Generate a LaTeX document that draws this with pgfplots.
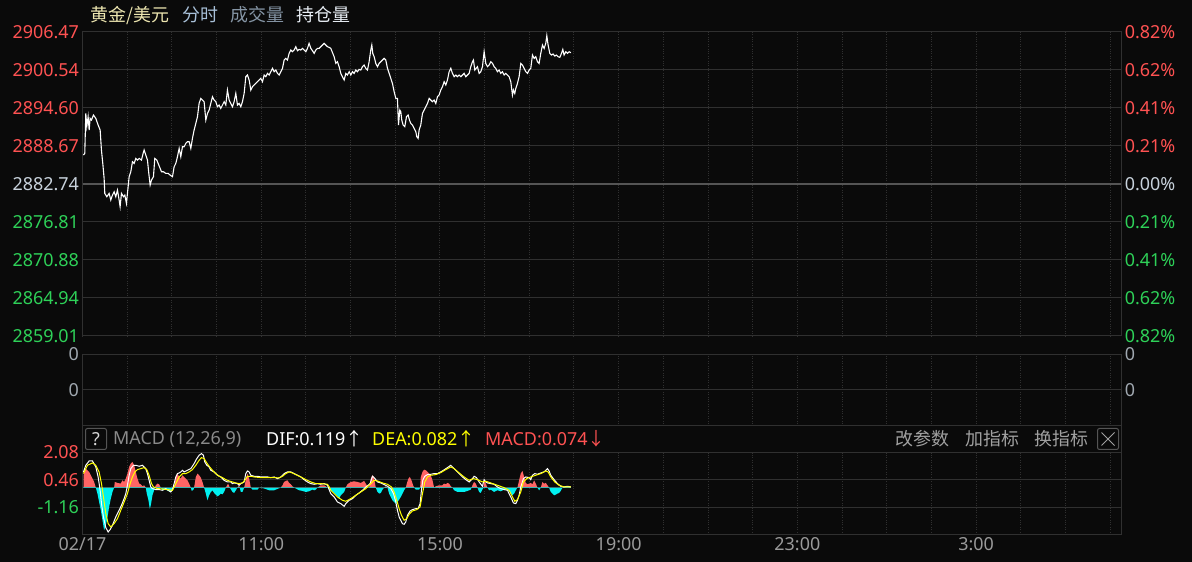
\documentclass[border=0pt]{standalone}
\usepackage{pgfplots}
\pgfplotsset{compat=1.18}
\usepackage{fontspec}
\setmainfont{Noto Sans}
\newfontfamily\cjk{Noto Sans CJK SC}
\definecolor{bg}{HTML}{0A0A0A}
\definecolor{gridc}{HTML}{303030}
\definecolor{boxc}{HTML}{555555}
\definecolor{zeroc}{HTML}{555555}
\definecolor{upred}{HTML}{FF5252}
\definecolor{dngreen}{HTML}{2ED158}
\definecolor{midc}{HTML}{C8D2DC}
\definecolor{zerolab}{HTML}{A0A8B0}
\definecolor{histred}{HTML}{FF6464}
\definecolor{histcyan}{HTML}{00F0F0}
\definecolor{deay}{HTML}{FFFF00}
\definecolor{timec}{HTML}{9A9A9A}
\definecolor{hdrgray}{HTML}{8A8A8A}
\definecolor{btngray}{HTML}{A0A0A0}
\definecolor{titley}{HTML}{EDE6B0}
\definecolor{titleb}{HTML}{A8C0D8}
\definecolor{titleg}{HTML}{8595A5}
\definecolor{titlew}{HTML}{E8EEF5}
\newcommand\lab{\fontsize{18}{18}\selectfont}
\pgfplotsset{panel/.style={scale only axis, anchor=south west, width=1038.8bp,
  xmin=0, xmax=23.25, axis line style={draw=gridc, line width=1bp},
  xtick={0,...,23}, xticklabels={}, xmajorgrids, ymajorgrids,
  x grid style={draw=gridc, dotted, line width=1bp},
  y grid style={draw=gridc, line width=1bp},
  major tick length=0, tick label style={font=\lab}},
  rlabels/.style={scale only axis, anchor=south west, width=1038.8bp,
  xmin=0, xmax=23.25, axis line style={draw=none}, xtick=\empty,
  yticklabel pos=right, major tick length=0, tick label style={font=\lab}}}
\begin{document}
\begin{tikzpicture}
\useasboundingbox (0,0) rectangle (1192bp,562bp);
\fill[bg] (0,0) rectangle (1192bp,562bp);
% title
\node[anchor=west, inner sep=0pt, font=\lab\cjk, text=titley] at (90bp,547bp) {黄金/美元};
\node[anchor=west, inner sep=0pt, font=\lab\cjk, text=titleb] at (182bp,547bp) {分时};
\node[anchor=west, inner sep=0pt, font=\lab\cjk, text=titleg] at (230bp,547bp) {成交量};
\node[anchor=west, inner sep=0pt, font=\lab\cjk, text=titlew] at (296bp,547bp) {持仓量};
% price panel
\begin{axis}[panel, at={(82.5bp,226bp)}, height=304.3bp,
  ymin=2859.01, ymax=2906.47,
  ytick={2859.01,2864.94,2870.88,2876.81,2882.74,2888.67,2894.60,2900.54,2906.47},
  yticklabels={{\color{dngreen}2859.01},{\color{dngreen}2864.94},{\color{dngreen}2870.88},{\color{dngreen}2876.81},{\color{midc}2882.74},{\color{upred}2888.67},{\color{upred}2894.60},{\color{upred}2900.54},{\color{upred}2906.47}}]
\addplot[zeroc, line width=2bp] coordinates {(0,2882.74) (23.25,2882.74)};
\addplot[white, line width=1.1bp] coordinates {
(0.022,2887.23) (0.051,2887.49) (0.074,2893.73) (0.096,2891.65) (0.126,2893.21) (0.149,2891.13) (0.171,2892.95) (0.201,2892.69) (0.245,2893.47) (0.298,2892.95) (0.350,2891.91) (0.395,2891.13) (0.424,2888.01) (0.454,2885.93) (0.484,2883.59) (0.499,2881.25) (0.544,2880.73) (0.596,2881.25) (0.633,2880.21) (0.671,2880.99) (0.708,2881.51) (0.745,2880.73) (0.783,2881.77) (0.820,2880.21) (0.842,2879.17) (0.872,2881.25) (0.917,2880.73) (0.947,2880.99) (0.984,2879.69) (1.006,2881.25) (1.044,2883.85) (1.081,2884.63) (1.118,2886.19) (1.156,2885.93) (1.193,2886.71) (1.230,2886.45) (1.268,2886.71) (1.320,2886.45) (1.357,2887.49) (1.379,2888.01) (1.417,2887.23) (1.454,2886.45) (1.484,2884.37) (1.514,2882.55) (1.544,2883.33) (1.588,2883.85) (1.618,2886.71) (1.663,2886.45) (1.693,2885.93) (1.738,2885.15) (1.767,2884.63) (1.812,2884.63) (1.864,2884.37) (1.917,2884.37) (1.961,2884.11) (2.014,2883.85) (2.051,2885.41) (2.088,2885.93) (2.125,2886.97) (2.163,2888.27) (2.200,2886.97) (2.237,2888.53) (2.275,2888.53) (2.312,2889.05) (2.349,2889.31) (2.387,2889.31) (2.424,2888.27) (2.461,2889.83) (2.498,2891.13) (2.536,2892.17) (2.573,2893.21) (2.610,2895.29) (2.648,2896.07) (2.685,2895.81) (2.722,2895.55) (2.760,2892.69) (2.797,2893.73) (2.834,2894.25) (2.872,2895.29) (2.909,2896.33) (2.946,2895.81) (2.983,2895.55) (3.021,2894.77) (3.058,2895.03) (3.095,2894.51) (3.133,2895.03) (3.170,2895.55) (3.207,2895.03) (3.244,2897.37) (3.282,2895.81) (3.319,2895.29) (3.356,2894.77) (3.394,2895.55) (3.431,2896.85) (3.468,2895.03) (3.506,2895.29) (3.543,2894.77) (3.580,2895.55) (3.618,2896.85) (3.655,2899.45) (3.692,2899.71) (3.730,2898.93) (3.767,2897.37) (3.804,2897.89) (3.841,2898.15) (3.879,2898.41) (3.916,2898.67) (3.953,2898.93) (3.991,2899.19) (4.028,2898.67) (4.065,2899.71) (4.102,2899.45) (4.140,2899.97) (4.177,2899.71) (4.214,2900.23) (4.252,2900.75) (4.289,2900.23) (4.326,2900.49) (4.364,2899.97) (4.401,2899.71) (4.438,2900.23) (4.476,2900.75) (4.513,2902.05) (4.550,2902.31) (4.587,2902.05) (4.625,2903.09) (4.662,2903.61) (4.699,2903.35) (4.737,2903.61) (4.774,2904.13) (4.811,2903.51) (4.849,2903.71) (4.886,2903.61) (4.923,2903.87) (4.960,2903.61) (4.998,2903.35) (5.035,2903.87) (5.072,2904.65) (5.110,2903.87) (5.147,2903.51) (5.184,2903.09) (5.221,2903.61) (5.259,2903.87) (5.296,2903.87) (5.333,2904.13) (5.371,2904.39) (5.408,2904.65) (5.445,2904.39) (5.483,2904.13) (5.520,2904.03) (5.557,2903.87) (5.632,2902.57) (5.669,2901.53) (5.706,2901.79) (5.744,2901.01) (5.781,2899.97) (5.818,2899.45) (5.856,2898.93) (5.893,2899.97) (5.930,2899.71) (5.968,2900.23) (6.005,2899.71) (6.042,2900.23) (6.079,2899.97) (6.117,2900.49) (6.154,2900.23) (6.191,2900.59) (6.229,2900.49) (6.266,2901.01) (6.303,2901.27) (6.341,2900.75) (6.378,2900.49) (6.415,2901.79) (6.452,2903.61) (6.475,2904.39) (6.497,2903.09) (6.527,2902.57) (6.564,2901.53) (6.602,2901.01) (6.639,2901.53) (6.676,2901.79) (6.714,2902.05) (6.751,2902.31) (6.788,2902.05) (6.826,2900.75) (6.863,2899.97) (6.900,2899.19) (6.937,2898.41) (6.975,2897.11) (7.012,2896.07) (7.049,2896.07) (7.072,2891.91) (7.102,2894.25) (7.124,2893.99) (7.146,2892.69) (7.176,2891.91) (7.213,2891.65) (7.251,2893.21) (7.288,2893.47) (7.318,2892.69) (7.348,2892.17) (7.385,2891.91) (7.422,2891.39) (7.460,2890.87) (7.482,2890.09) (7.512,2889.83) (7.534,2891.13) (7.571,2891.91) (7.609,2893.73) (7.646,2894.25) (7.683,2894.77) (7.721,2895.29) (7.758,2896.07) (7.795,2895.81) (7.833,2895.55) (7.870,2895.81) (7.907,2895.29) (7.945,2896.33) (7.982,2896.59) (8.019,2897.37) (8.056,2897.89) (8.094,2898.67) (8.131,2898.15) (8.168,2898.93) (8.206,2900.23) (8.243,2900.75) (8.280,2899.97) (8.318,2899.45) (8.355,2899.71) (8.392,2899.45) (8.430,2899.71) (8.467,2899.45) (8.504,2899.71) (8.541,2899.97) (8.579,2899.45) (8.616,2899.71) (8.653,2899.97) (8.691,2901.01) (8.728,2901.79) (8.750,2902.05) (8.780,2900.49) (8.810,2900.75) (8.840,2901.01) (8.877,2899.97) (8.914,2900.23) (8.952,2901.01) (8.989,2903.35) (9.026,2901.53) (9.064,2901.01) (9.101,2901.27) (9.138,2901.79) (9.176,2901.53) (9.213,2901.01) (9.250,2900.75) (9.287,2900.23) (9.325,2900.49) (9.362,2899.97) (9.399,2900.23) (9.437,2899.71) (9.474,2899.97) (9.511,2899.71) (9.549,2899.45) (9.586,2898.67) (9.623,2896.59) (9.645,2897.37) (9.675,2896.85) (9.698,2897.63) (9.735,2898.41) (9.772,2899.45) (9.810,2901.53) (9.847,2901.27) (9.884,2900.75) (9.922,2900.23) (9.959,2899.97) (9.996,2900.49) (10.033,2900.75) (10.071,2902.83) (10.108,2902.31) (10.145,2902.57) (10.183,2901.79) (10.220,2901.53) (10.257,2903.09) (10.295,2904.39) (10.332,2903.87) (10.369,2904.65) (10.392,2905.85) (10.421,2904.39) (10.459,2903.09) (10.496,2902.83) (10.533,2902.99) (10.571,2902.67) (10.608,2902.83) (10.645,2902.57) (10.683,2902.47) (10.720,2903.09) (10.750,2903.71) (10.779,2902.83) (10.817,2903.35) (10.854,2903.09) (10.891,2903.35) (10.929,2903.19)};
\end{axis}
\begin{axis}[rlabels, at={(82.5bp,226bp)}, height=304.3bp,
  ymin=2859.01, ymax=2906.47,
  ytick={2859.01,2864.94,2870.88,2876.81,2882.74,2888.67,2894.60,2900.54,2906.47},
  yticklabels={{\color{dngreen}0.82\%},{\color{dngreen}0.62\%},{\color{dngreen}0.41\%},{\color{dngreen}0.21\%},{\color{midc}0.00\%},{\color{upred}0.21\%},{\color{upred}0.41\%},{\color{upred}0.62\%},{\color{upred}0.82\%}}]
\end{axis}
% middle panel
\begin{axis}[panel, at={(82.5bp,136.3bp)}, height=71.4bp, ymin=-1, ymax=1,
  ytick={0,1}, yticklabels={0,0}, yticklabel style={text=zerolab}]
\end{axis}
\begin{axis}[rlabels, at={(82.5bp,136.3bp)}, height=71.4bp, ymin=-1, ymax=1,
  ytick={0,1}, yticklabels={0,0}, yticklabel style={text=zerolab}]
\end{axis}
% header band
\draw[gridc, line width=1bp] (82.5bp,136.3bp) -- (82.5bp,109.7bp) (1121.3bp,136.3bp) -- (1121.3bp,109.7bp);
\draw[boxc, line width=1bp, rounded corners=2bp] (85.5bp,112.5bp) rectangle (106.5bp,133.5bp);
\node[font=\lab, text=white!85!black, inner sep=0pt] at (96bp,123bp) {?};
\node[anchor=west, inner sep=0pt, font=\lab, text=hdrgray] at (113bp,123bp) {MACD (12,26,9)};
\node[anchor=west, inner sep=0pt, font=\lab, text=white] at (266bp,123bp) {DIF:0.119{\cjk ↑}};
\node[anchor=west, inner sep=0pt, font=\lab, text=deay] at (372bp,123bp) {DEA:0.082{\cjk ↑}};
\node[anchor=west, inner sep=0pt, font=\lab, text=upred] at (485bp,123bp) {MACD:0.074{\cjk ↓}};
\node[anchor=west, inner sep=0pt, font=\lab\cjk, text=btngray] at (895bp,123bp) {改参数};
\node[anchor=west, inner sep=0pt, font=\lab\cjk, text=btngray] at (965bp,123bp) {加指标};
\node[anchor=west, inner sep=0pt, font=\lab\cjk, text=btngray] at (1034bp,123bp) {换指标};
\draw[boxc, line width=1bp, rounded corners=2bp] (1097.5bp,112.5bp) rectangle (1118.5bp,133.5bp);
\draw[btngray, line width=0.8bp] (1101.5bp,116.5bp) -- (1114.5bp,129.5bp) (1101.5bp,129.5bp) -- (1114.5bp,116.5bp);
% MACD panel
\begin{axis}[panel, at={(82.5bp,27.7bp)}, height=82bp, ymin=-2.75, ymax=2.08,
  ytick={-1.16,0.46,2.08},
  yticklabels={{\color{dngreen}-1.16},{\color{upred}0.46},{\color{upred}2.08}},
  xticklabels={02/17,,,,11:00,,,,15:00,,,,19:00,,,,23:00,,,,3:00,,,},
  xticklabel style={text=timec}]
\begin{scope}
\clip (axis cs:0,0) rectangle (axis cs:23.25,2.08);
\addplot[fill=histred, draw=none] coordinates {
(0.022,0) (0.030,1.02) (0.074,1.119) (0.149,0.923) (0.186,0.727) (0.223,0.530) (0.260,0.334) (0.298,0) (0.335,-0.354) (0.372,-0.845) (0.410,-1.336) (0.447,-1.925) (0.484,-2.514) (0.522,-2.219) (0.559,-1.728) (0.596,-1.139) (0.633,-0.648) (0.671,-0.255) (0.708,0) (0.723,0.334) (0.783,0.275) (0.857,0.236) (0.895,0.432) (0.932,0.334) (0.969,0.530) (1.006,0.825) (1.044,1.218) (1.081,1.414) (1.118,1.512) (1.156,1.316) (1.193,0.923) (1.230,0.530) (1.268,0.236) (1.305,0.196) (1.342,0.079) (1.379,0.137) (1.417,0) (1.439,-0.354) (1.476,-0.746) (1.506,-1.237) (1.529,-1.041) (1.566,-0.452) (1.603,-0.157) (1.618,0) (1.641,0.137) (1.678,0.236) (1.715,0.196) (1.752,0) (1.790,-0.157) (1.864,-0.118) (1.917,-0.196) (1.976,-0.255) (2.014,-0.157) (2.051,0) (2.088,0.628) (2.125,0.825) (2.163,0.628) (2.200,0.530) (2.237,0.727) (2.275,0.628) (2.312,0.530) (2.349,0.432) (2.387,0.236) (2.424,0) (2.446,-0.196) (2.484,-0.118) (2.498,0) (2.536,0.628) (2.573,0.825) (2.610,0.727) (2.648,0.589) (2.685,0.334) (2.722,0) (2.760,-0.354) (2.797,-0.746) (2.834,-0.452) (2.872,-0.255) (2.909,-0.157) (2.946,-0.314) (2.983,-0.412) (3.021,-0.511) (3.058,-0.452) (3.095,-0.354) (3.133,-0.393) (3.170,-0.255) (3.207,0) (3.259,0.236) (3.297,0) (3.356,-0.255) (3.394,-0.314) (3.431,-0.157) (3.468,0) (3.506,0.137) (3.520,0) (3.543,-0.255) (3.580,-0.255) (3.618,0) (3.670,0.628) (3.692,0.825) (3.730,0.530) (3.767,0) (3.804,-0.118) (3.916,-0.118) (3.953,0) (4.065,-0.05) (4.177,-0.157) (4.289,-0.157) (4.438,0) (4.476,0.137) (4.513,0.334) (4.550,0.393) (4.587,0.432) (4.625,0.275) (4.662,0.196) (4.699,0.079) (4.737,0) (4.849,-0.157) (4.923,-0.196) (4.998,-0.255) (5.072,-0.216) (5.147,-0.118) (5.184,-0.157) (5.221,-0.118) (5.259,0) (5.333,0.137) (5.408,0.137) (5.483,0) (5.520,-0.118) (5.557,-0.157) (5.632,-0.314) (5.706,-0.511) (5.744,-0.648) (5.781,-0.452) (5.856,-0.255) (5.893,0) (5.930,0.196) (6.005,0.334) (6.079,0.373) (6.154,0.334) (6.229,0.275) (6.266,0.334) (6.303,0.393) (6.341,0.236) (6.378,0.039) (6.415,0) (6.452,0.530) (6.490,0.727) (6.512,0.668) (6.542,0.334) (6.564,0) (6.602,-0.255) (6.639,-0.354) (6.676,-0.314) (6.714,-0.118) (6.751,0) (6.788,0.079) (6.826,0) (6.863,-0.354) (6.900,-0.550) (6.937,-0.746) (6.975,-0.845) (7.012,-0.943) (7.049,-0.845) (7.087,-0.707) (7.124,-0.550) (7.161,-0.354) (7.198,-0.157) (7.236,0) (7.258,0.236) (7.295,0.530) (7.325,0.628) (7.362,0.432) (7.400,0.137) (7.422,0) (7.460,-0.118) (7.534,-0.118) (7.556,0) (7.571,0.628) (7.609,0.923) (7.646,1.061) (7.683,1.021) (7.721,0.923) (7.758,0.825) (7.795,0.727) (7.833,0.432) (7.870,0) (7.907,0.079) (7.982,0.137) (8.056,0.137) (8.094,0.236) (8.131,0.196) (8.168,0.275) (8.206,0.236) (8.243,0.079) (8.280,0) (8.318,-0.157) (8.392,-0.255) (8.467,-0.255) (8.541,-0.255) (8.616,-0.196) (8.690,-0.118) (8.728,0.137) (8.765,0.334) (8.802,0.236) (8.839,0) (8.877,-0.255) (8.914,-0.314) (8.951,-0.118) (8.974,0) (8.989,0.432) (9.026,0.236) (9.063,0) (9.101,-0.157) (9.138,-0.118) (9.212,-0.255) (9.287,-0.157) (9.362,-0.216) (9.436,-0.118) (9.511,-0.157) (9.585,-0.314) (9.623,-0.452) (9.660,-0.354) (9.697,-0.157) (9.735,0) (9.772,0.432) (9.809,0.825) (9.847,0.982) (9.884,0.628) (9.921,0.275) (9.958,0.196) (10.033,0.275) (10.070,0.196) (10.108,0.432) (10.145,0.236) (10.182,0) (10.220,-0.157) (10.257,0) (10.294,0.334) (10.331,0.236) (10.369,0.275) (10.406,0.137) (10.443,0) (10.481,-0.255) (10.518,-0.354) (10.555,-0.452) (10.593,-0.412) (10.630,-0.354) (10.667,-0.314) (10.704,-0.196) (10.742,0) (10.779,0.079) (10.928,0.079) (10.929,0)};
\end{scope}
\begin{scope}
\clip (axis cs:0,-2.75) rectangle (axis cs:23.25,0);
\addplot[fill=histcyan, draw=none] coordinates {
(0.022,0) (0.030,1.02) (0.074,1.119) (0.149,0.923) (0.186,0.727) (0.223,0.530) (0.260,0.334) (0.298,0) (0.335,-0.354) (0.372,-0.845) (0.410,-1.336) (0.447,-1.925) (0.484,-2.514) (0.522,-2.219) (0.559,-1.728) (0.596,-1.139) (0.633,-0.648) (0.671,-0.255) (0.708,0) (0.723,0.334) (0.783,0.275) (0.857,0.236) (0.895,0.432) (0.932,0.334) (0.969,0.530) (1.006,0.825) (1.044,1.218) (1.081,1.414) (1.118,1.512) (1.156,1.316) (1.193,0.923) (1.230,0.530) (1.268,0.236) (1.305,0.196) (1.342,0.079) (1.379,0.137) (1.417,0) (1.439,-0.354) (1.476,-0.746) (1.506,-1.237) (1.529,-1.041) (1.566,-0.452) (1.603,-0.157) (1.618,0) (1.641,0.137) (1.678,0.236) (1.715,0.196) (1.752,0) (1.790,-0.157) (1.864,-0.118) (1.917,-0.196) (1.976,-0.255) (2.014,-0.157) (2.051,0) (2.088,0.628) (2.125,0.825) (2.163,0.628) (2.200,0.530) (2.237,0.727) (2.275,0.628) (2.312,0.530) (2.349,0.432) (2.387,0.236) (2.424,0) (2.446,-0.196) (2.484,-0.118) (2.498,0) (2.536,0.628) (2.573,0.825) (2.610,0.727) (2.648,0.589) (2.685,0.334) (2.722,0) (2.760,-0.354) (2.797,-0.746) (2.834,-0.452) (2.872,-0.255) (2.909,-0.157) (2.946,-0.314) (2.983,-0.412) (3.021,-0.511) (3.058,-0.452) (3.095,-0.354) (3.133,-0.393) (3.170,-0.255) (3.207,0) (3.259,0.236) (3.297,0) (3.356,-0.255) (3.394,-0.314) (3.431,-0.157) (3.468,0) (3.506,0.137) (3.520,0) (3.543,-0.255) (3.580,-0.255) (3.618,0) (3.670,0.628) (3.692,0.825) (3.730,0.530) (3.767,0) (3.804,-0.118) (3.916,-0.118) (3.953,0) (4.065,-0.05) (4.177,-0.157) (4.289,-0.157) (4.438,0) (4.476,0.137) (4.513,0.334) (4.550,0.393) (4.587,0.432) (4.625,0.275) (4.662,0.196) (4.699,0.079) (4.737,0) (4.849,-0.157) (4.923,-0.196) (4.998,-0.255) (5.072,-0.216) (5.147,-0.118) (5.184,-0.157) (5.221,-0.118) (5.259,0) (5.333,0.137) (5.408,0.137) (5.483,0) (5.520,-0.118) (5.557,-0.157) (5.632,-0.314) (5.706,-0.511) (5.744,-0.648) (5.781,-0.452) (5.856,-0.255) (5.893,0) (5.930,0.196) (6.005,0.334) (6.079,0.373) (6.154,0.334) (6.229,0.275) (6.266,0.334) (6.303,0.393) (6.341,0.236) (6.378,0.039) (6.415,0) (6.452,0.530) (6.490,0.727) (6.512,0.668) (6.542,0.334) (6.564,0) (6.602,-0.255) (6.639,-0.354) (6.676,-0.314) (6.714,-0.118) (6.751,0) (6.788,0.079) (6.826,0) (6.863,-0.354) (6.900,-0.550) (6.937,-0.746) (6.975,-0.845) (7.012,-0.943) (7.049,-0.845) (7.087,-0.707) (7.124,-0.550) (7.161,-0.354) (7.198,-0.157) (7.236,0) (7.258,0.236) (7.295,0.530) (7.325,0.628) (7.362,0.432) (7.400,0.137) (7.422,0) (7.460,-0.118) (7.534,-0.118) (7.556,0) (7.571,0.628) (7.609,0.923) (7.646,1.061) (7.683,1.021) (7.721,0.923) (7.758,0.825) (7.795,0.727) (7.833,0.432) (7.870,0) (7.907,0.079) (7.982,0.137) (8.056,0.137) (8.094,0.236) (8.131,0.196) (8.168,0.275) (8.206,0.236) (8.243,0.079) (8.280,0) (8.318,-0.157) (8.392,-0.255) (8.467,-0.255) (8.541,-0.255) (8.616,-0.196) (8.690,-0.118) (8.728,0.137) (8.765,0.334) (8.802,0.236) (8.839,0) (8.877,-0.255) (8.914,-0.314) (8.951,-0.118) (8.974,0) (8.989,0.432) (9.026,0.236) (9.063,0) (9.101,-0.157) (9.138,-0.118) (9.212,-0.255) (9.287,-0.157) (9.362,-0.216) (9.436,-0.118) (9.511,-0.157) (9.585,-0.314) (9.623,-0.452) (9.660,-0.354) (9.697,-0.157) (9.735,0) (9.772,0.432) (9.809,0.825) (9.847,0.982) (9.884,0.628) (9.921,0.275) (9.958,0.196) (10.033,0.275) (10.070,0.196) (10.108,0.432) (10.145,0.236) (10.182,0) (10.220,-0.157) (10.257,0) (10.294,0.334) (10.331,0.236) (10.369,0.275) (10.406,0.137) (10.443,0) (10.481,-0.255) (10.518,-0.354) (10.555,-0.452) (10.593,-0.412) (10.630,-0.354) (10.667,-0.314) (10.704,-0.196) (10.742,0) (10.779,0.079) (10.928,0.079) (10.929,0)};
\end{scope}
\addplot[white, line width=1bp] coordinates {
(0.022,0.923) (0.074,1.316) (0.149,1.571) (0.223,1.571) (0.298,1.218) (0.350,0.628) (0.395,-0.157) (0.425,-0.943) (0.469,-1.728) (0.522,-2.357) (0.574,-2.612) (0.618,-2.475) (0.671,-2.219) (0.745,-1.728) (0.820,-1.336) (0.872,-1.041) (0.932,-0.648) (0.969,-0.354) (1.006,0.137) (1.044,0.727) (1.081,1.119) (1.141,1.316) (1.193,1.316) (1.268,1.257) (1.342,1.316) (1.417,1.119) (1.454,0.825) (1.491,0.432) (1.529,0.039) (1.566,-0.059) (1.641,-0.118) (1.715,-0.118) (1.790,-0.157) (1.864,-0.059) (1.917,-0.157) (1.976,-0.255) (2.014,-0.118) (2.051,0.236) (2.088,0.628) (2.125,0.825) (2.163,0.864) (2.200,0.923) (2.237,1.021) (2.275,0.923) (2.349,1.021) (2.424,1.119) (2.498,1.414) (2.558,1.709) (2.610,1.905) (2.663,2.003) (2.707,1.905) (2.737,1.512) (2.782,1.316) (2.834,1.218) (2.872,1.021) (2.946,0.923) (3.021,0.727) (3.095,0.628) (3.170,0.432) (3.244,0.334) (3.319,0.334) (3.356,0.236) (3.394,0.275) (3.468,0.236) (3.506,0.137) (3.543,0.236) (3.618,0.334) (3.655,0.825) (3.692,0.982) (3.730,0.923) (3.767,0.727) (3.841,0.668) (3.916,0.668) (3.991,0.628) (4.065,0.628) (4.140,0.628) (4.214,0.589) (4.289,0.628) (4.364,0.530) (4.438,0.628) (4.513,0.825) (4.587,0.923) (4.662,0.923) (4.737,0.825) (4.811,0.727) (4.886,0.628) (4.960,0.471) (5.035,0.334) (5.110,0.236) (5.184,0.196) (5.259,0.236) (5.333,0.196) (5.408,0.236) (5.483,0.137) (5.520,-0.118) (5.557,-0.354) (5.632,-0.550) (5.706,-0.845) (5.781,-0.943) (5.856,-1.100) (5.893,-0.943) (5.968,-0.746) (6.042,-0.648) (6.117,-0.452) (6.191,-0.314) (6.266,-0.157) (6.341,0.039) (6.393,0.137) (6.437,0.236) (6.490,0.668) (6.527,0.589) (6.564,0.471) (6.602,0.334) (6.676,0.275) (6.751,0.177) (6.826,0.079) (6.900,-0.059) (6.960,-0.354) (7.012,-0.845) (7.049,-1.336) (7.087,-1.728) (7.124,-1.925) (7.161,-2.121) (7.198,-2.160) (7.236,-2.023) (7.273,-1.630) (7.333,-1.375) (7.385,-1.296) (7.460,-1.237) (7.512,-1.237) (7.556,-0.943) (7.586,-0.157) (7.616,0.432) (7.661,0.668) (7.721,0.766) (7.795,0.786) (7.870,0.825) (7.945,0.825) (8.056,0.982) (8.168,1.178) (8.243,1.316) (8.280,1.218) (8.355,1.021) (8.430,0.825) (8.504,0.628) (8.579,0.471) (8.653,0.334) (8.728,0.530) (8.765,0.668) (8.817,0.589) (8.877,0.334) (8.951,0.079) (8.989,0.471) (9.026,0.334) (9.063,0.275) (9.138,0.236) (9.212,0.196) (9.287,0.039) (9.362,-0.059) (9.436,-0.118) (9.511,-0.157) (9.585,-0.550) (9.645,-0.903) (9.697,-0.943) (9.735,-0.746) (9.772,-0.452) (9.809,0.039) (9.869,0.530) (9.921,0.628) (9.996,0.589) (10.033,0.471) (10.070,0.727) (10.123,0.825) (10.182,0.786) (10.257,0.864) (10.331,0.923) (10.406,1.119) (10.443,0.982) (10.481,0.727) (10.555,0.471) (10.630,0.236) (10.704,0.079) (10.779,0.039) (10.854,0.079) (10.928,0.039)};
\addplot[deay, line width=1bp] coordinates {
(0.022,0.825) (0.111,1.316) (0.223,1.453) (0.298,1.316) (0.372,0.923) (0.425,0.236) (0.469,-0.550) (0.522,-1.532) (0.574,-2.121) (0.633,-2.317) (0.708,-2.121) (0.783,-1.826) (0.857,-1.336) (0.932,-0.845) (1.006,-0.354) (1.066,0.236) (1.118,0.628) (1.171,0.923) (1.230,1.061) (1.305,1.119) (1.379,1.178) (1.439,1.061) (1.491,0.727) (1.544,0.236) (1.588,0.039) (1.678,-0.059) (1.790,-0.079) (1.902,-0.118) (2.014,-0.157) (2.088,0.236) (2.163,0.628) (2.237,0.825) (2.312,0.825) (2.387,0.923) (2.461,1.061) (2.536,1.316) (2.610,1.610) (2.663,1.768) (2.722,1.709) (2.782,1.453) (2.834,1.257) (2.909,1.021) (2.983,0.825) (3.058,0.668) (3.133,0.589) (3.207,0.471) (3.282,0.393) (3.356,0.334) (3.431,0.275) (3.506,0.236) (3.580,0.275) (3.633,0.432) (3.692,0.668) (3.767,0.668) (3.841,0.628) (3.991,0.589) (4.140,0.589) (4.289,0.589) (4.401,0.570) (4.476,0.668) (4.550,0.825) (4.625,0.923) (4.699,0.864) (4.774,0.766) (4.886,0.628) (4.998,0.471) (5.110,0.334) (5.221,0.236) (5.333,0.236) (5.483,0.196) (5.520,0.05) (5.557,-0.157) (5.632,-0.354) (5.706,-0.550) (5.818,-0.746) (5.893,-0.805) (6.005,-0.648) (6.117,-0.452) (6.229,-0.255) (6.341,-0.059) (6.452,0.236) (6.527,0.432) (6.602,0.393) (6.714,0.275) (6.826,0.196) (6.915,0.039) (6.975,-0.255) (7.034,-0.746) (7.087,-1.237) (7.139,-1.630) (7.198,-1.925) (7.258,-1.826) (7.310,-1.571) (7.385,-1.375) (7.482,-1.296) (7.556,-1.139) (7.609,-0.354) (7.661,0.334) (7.721,0.628) (7.795,0.727) (7.907,0.766) (8.019,0.884) (8.131,1.061) (8.243,1.218) (8.318,1.119) (8.430,0.864) (8.541,0.628) (8.653,0.432) (8.750,0.530) (8.839,0.471) (8.951,0.334) (9.026,0.373) (9.138,0.275) (9.287,0.137) (9.436,0) (9.548,-0.157) (9.623,-0.550) (9.675,-0.805) (9.735,-0.707) (9.809,-0.255) (9.869,0.334) (9.943,0.530) (10.033,0.628) (10.145,0.727) (10.257,0.825) (10.369,0.982) (10.421,0.923) (10.481,0.628) (10.570,0.334) (10.667,0.137) (10.779,0.039) (10.928,0.039)};
\end{axis}
\end{tikzpicture}
\end{document}
